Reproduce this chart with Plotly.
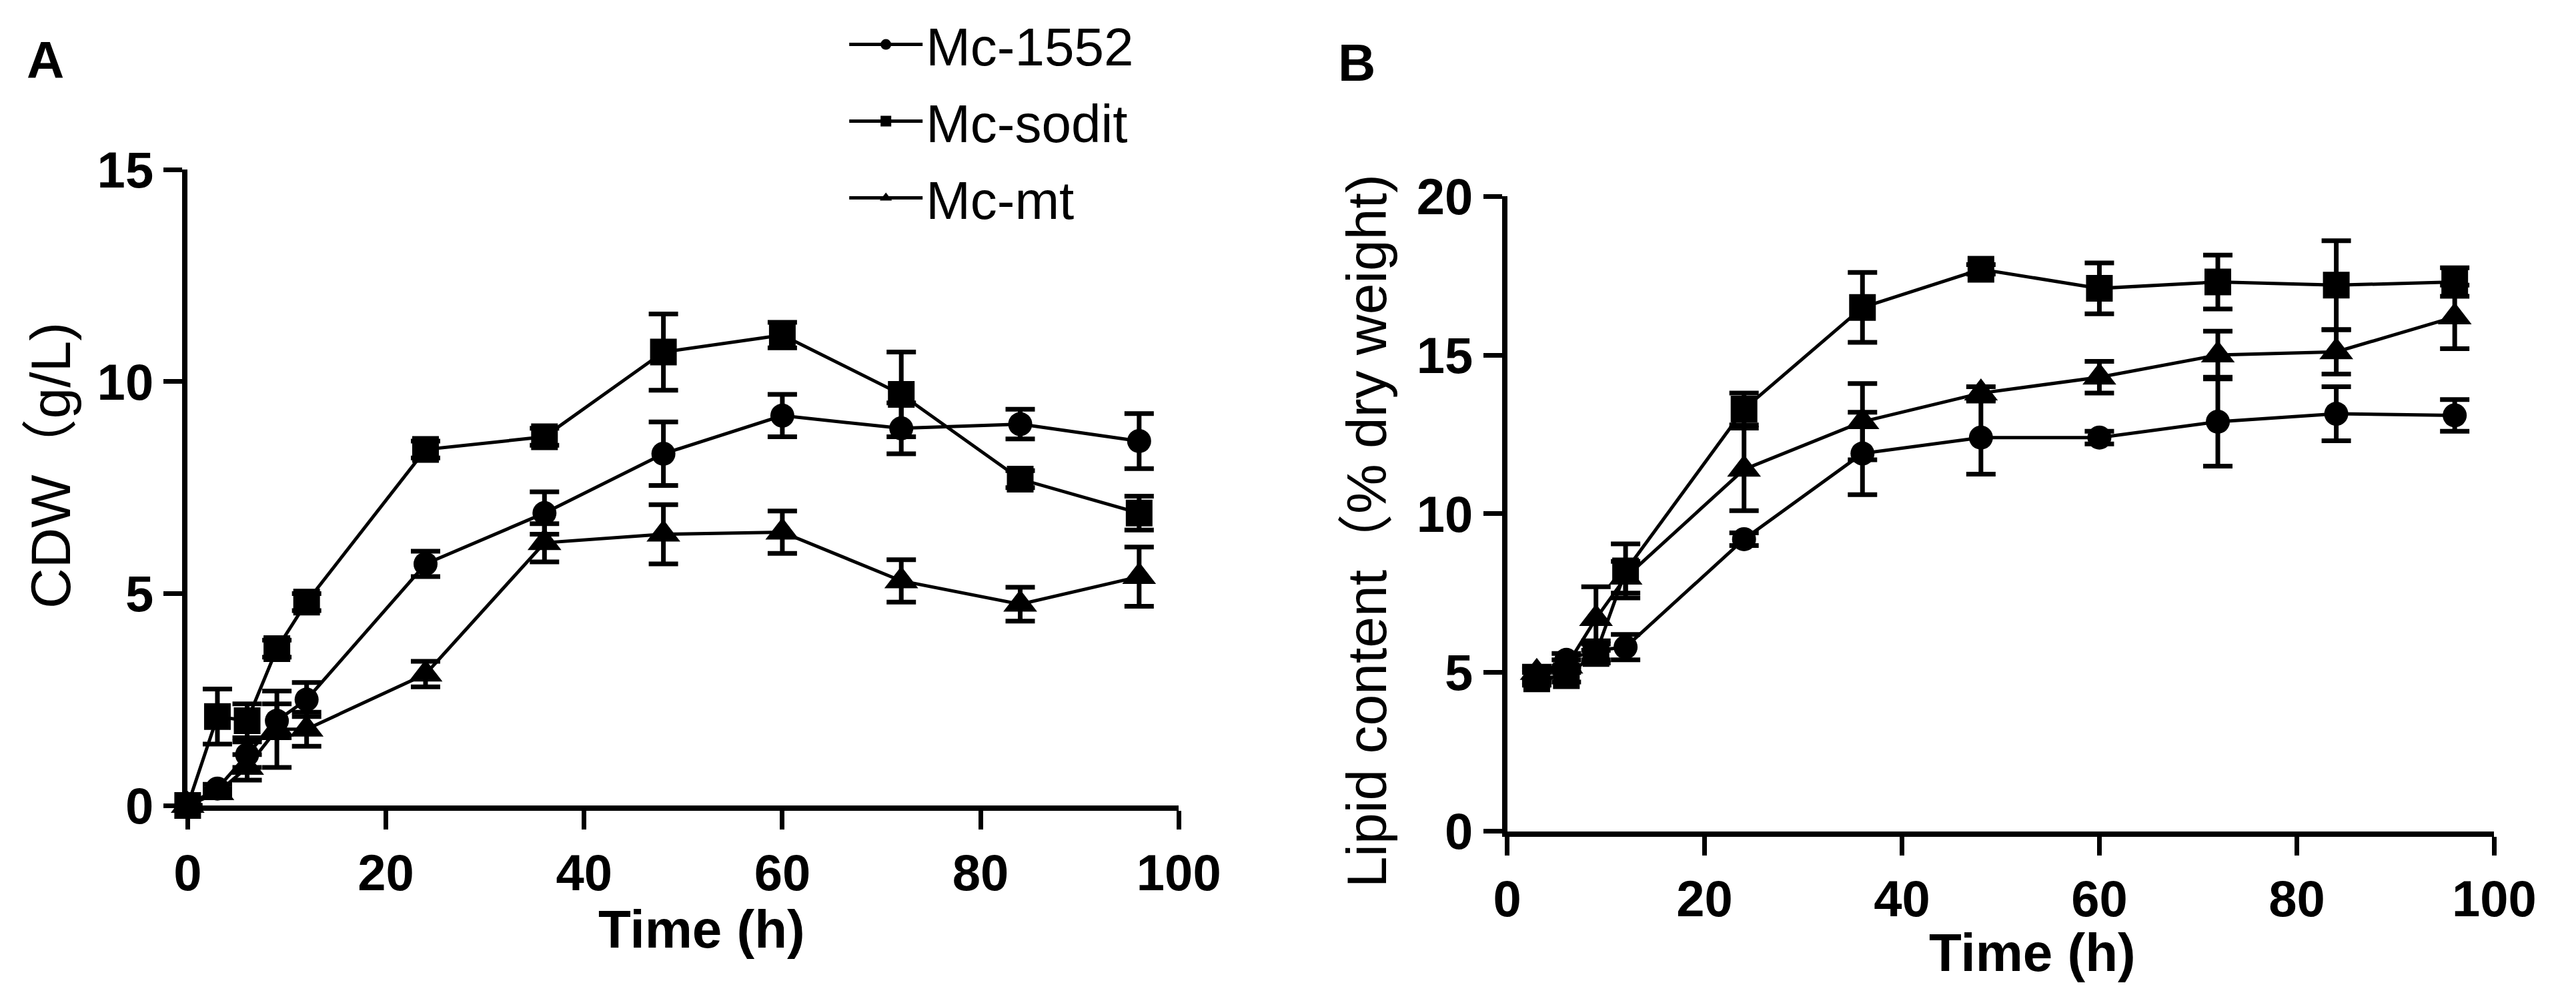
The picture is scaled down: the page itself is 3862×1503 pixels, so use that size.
import plotly.graph_objects as go

# Panel A: cell dry weight (g/L)
time_a = [0, 3, 6, 9, 12, 24, 36, 48, 60, 72, 84, 96]
cdw_1552 = [0, 0.4, 1.2, 2.0, 2.5, 5.7, 6.9, 8.3, 9.2, 8.9, 9.0, 8.6]
cdw_1552_err = [0, 0.1, 0.3, 0.4, 0.4, 0.3, 0.5, 0.75, 0.5, 0.6, 0.35, 0.65]
cdw_sodit = [0, 2.1, 2.0, 3.7, 4.8, 8.4, 8.7, 10.7, 11.1, 9.7, 7.7, 6.9]
cdw_sodit_err = [0, 0.65, 0.4, 0.2, 0.2, 0.2, 0.2, 0.9, 0.3, 1.0, 0.2, 0.4]
cdw_mt = [0, 0.3, 0.9, 1.8, 1.8, 3.1, 6.2, 6.4, 6.45, 5.3, 4.75, 5.4]
cdw_mt_err = [0, 0.1, 0.3, 0.9, 0.4, 0.3, 0.45, 0.7, 0.5, 0.5, 0.4, 0.7]

# Panel B: lipid content (% dry weight)
time_b = [3, 6, 9, 12, 24, 36, 48, 60, 72, 84, 96]
lipid_1552 = [4.9, 5.4, 5.7, 5.8, 9.2, 11.9, 12.4, 12.4, 12.9, 13.15, 13.1]
lipid_1552_err = [0.2, 0.2, 0.3, 0.4, 0.2, 1.3, 1.15, 0.2, 1.4, 0.85, 0.5]
lipid_sodit = [4.8, 4.9, 5.6, 8.2, 13.3, 16.5, 17.7, 17.1, 17.3, 17.2, 17.3]
lipid_sodit_err = [0.2, 0.2, 0.3, 0.85, 0.5, 1.1, 0.15, 0.8, 0.85, 1.4, 0.45]
lipid_mt = [5.0, 5.2, 6.7, 8.0, 11.4, 12.9, 13.8, 14.3, 15.0, 15.1, 16.2]
lipid_mt_err = [0.2, 0.2, 1.0, 0.5, 1.3, 1.2, 0.2, 0.5, 0.75, 0.7, 1.0]

strains = ["Mc-1552", "Mc-sodit", "Mc-mt"]
symbols = {"Mc-1552": "circle", "Mc-sodit": "square", "Mc-mt": "triangle-up"}
sizes = {"Mc-1552": 36, "Mc-sodit": 40, "Mc-mt": 44}

SANS = "Liberation Sans, Arial, Noto Sans CJK SC, sans-serif"

panel_a = {"Mc-1552": (cdw_1552, cdw_1552_err),
           "Mc-sodit": (cdw_sodit, cdw_sodit_err),
           "Mc-mt": (cdw_mt, cdw_mt_err)}
panel_b = {"Mc-1552": (lipid_1552, lipid_1552_err),
           "Mc-sodit": (lipid_sodit, lipid_sodit_err),
           "Mc-mt": (lipid_mt, lipid_mt_err)}

fig = go.Figure()

for name in strains:
    y, err = panel_a[name]
    fig.add_trace(go.Scatter(
        x=time_a, y=y, name=name, mode="lines+markers",
        legendgroup=name,
        line=dict(color="black", width=5),
        marker=dict(symbol=symbols[name], size=sizes[name], color="black"),
        error_y=dict(type="data", array=err, color="black", thickness=7, width=22),
        cliponaxis=False, xaxis="x", yaxis="y", showlegend=True,
    ))

for name in strains:
    y, err = panel_b[name]
    fig.add_trace(go.Scatter(
        x=time_b, y=y, name=name, mode="lines+markers",
        legendgroup=name,
        line=dict(color="black", width=5),
        marker=dict(symbol=symbols[name], size=sizes[name], color="black"),
        error_y=dict(type="data", array=err, color="black", thickness=7, width=22),
        cliponaxis=False, xaxis="x2", yaxis="y2", showlegend=False,
    ))

axis_style = dict(
    showline=True, linecolor="black", linewidth=8,
    ticks="outside", ticklen=28, tickwidth=7, tickcolor="black",
    showgrid=False, zeroline=False,
    tickfont=dict(family=SANS, size=76, color="black", weight="bold"),
)

fig.update_layout(
    width=3862, height=1503,
    margin=dict(l=0, r=0, t=0, b=0),
    paper_bgcolor="white", plot_bgcolor="white",
    xaxis=dict(domain=[0.0668, 0.4601], range=[0, 100], tickvals=[0, 20, 40, 60, 80, 100], anchor="y", **axis_style),
    yaxis=dict(domain=[0.1843, 0.8570], range=[0, 15], tickvals=[0, 5, 10, 15], anchor="x", **axis_style),
    xaxis2=dict(domain=[0.5904, 0.9821], range=[0, 100], tickvals=[0, 20, 40, 60, 80, 100], anchor="y2", **axis_style),
    yaxis2=dict(domain=[0.1570, 0.8290], range=[0, 20], tickvals=[0, 5, 10, 15, 20], anchor="x2", **axis_style),
    legend=dict(
        x=0.328, y=1.031, xanchor="left", yanchor="top",
        font=dict(family=SANS, size=80, color="black"),
        itemwidth=110, tracegroupgap=8, bgcolor="rgba(0,0,0,0)",
    ),
    showlegend=True,
)

annotations = [
    dict(text="A", x=0.0104, y=0.973, font=dict(family=SANS, size=78, weight="bold")),
    dict(text="B", x=0.5306, y=0.970, font=dict(family=SANS, size=78, weight="bold")),
    dict(text="CDW（g/L)", x=0.0124, y=0.5443, textangle=-90, font=dict(family=SANS, size=84)),
    dict(text="Lipid content（% dry weight)", x=0.5347, y=0.4744, textangle=-90, font=dict(family=SANS, size=84)),
    dict(text="Time (h)", x=0.2708, y=0.0530, font=dict(family=SANS, size=80, weight="bold")),
    dict(text="Time (h)", x=0.7988, y=0.0285, font=dict(family=SANS, size=80, weight="bold")),
]
for a in annotations:
    a.update(xref="paper", yref="paper", showarrow=False, xanchor="center", yanchor="middle")
    a["font"]["color"] = "black"
fig.update_layout(annotations=annotations)

fig.write_html("out.html")
